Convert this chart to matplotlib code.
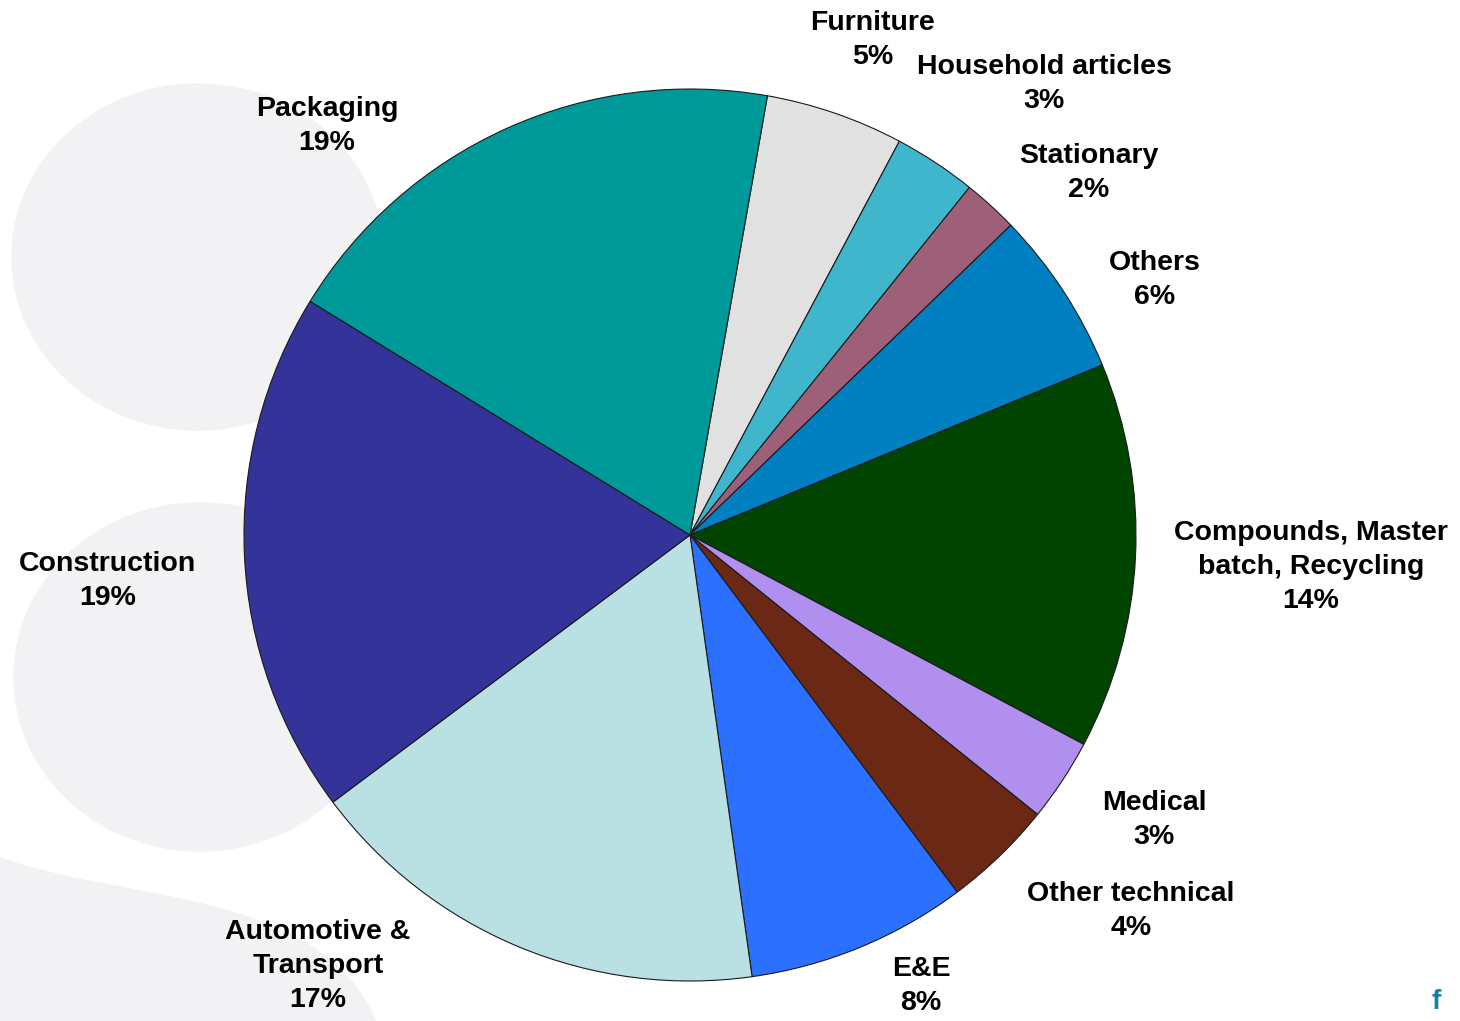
import matplotlib
matplotlib.use("Agg")
import matplotlib.pyplot as plt
from matplotlib.patches import Ellipse, PathPatch
from matplotlib.path import Path

# ---------- Data ----------
labels = ["Furniture", "Household articles", "Stationary", "Others",
          "Compounds, Master\nbatch, Recycling", "Medical", "Other technical",
          "E&E", "Automotive &\nTransport", "Construction", "Packaging"]
shares = [5, 3, 2, 6, 14, 3, 4, 8, 17, 19, 19]
colors = ["#E1E1E1", "#3FB6CC", "#9E6078", "#0080C0", "#004400", "#B18FEE",
          "#6B2915", "#2B70FF", "#B9E0E3", "#333399", "#009999"]

# label centres in pixel coords (y measured from top)
label_pos = [(873, 40), (1044, 84), (1089, 173), (1155, 280), (1311, 567),
             (1154, 820), (1131, 911), (921, 986), (318, 966), (108, 581),
             (327, 126)]

W, H = 1460, 1021
fig = plt.figure(figsize=(W / 100, H / 100), dpi=100)
ax = fig.add_axes([0, 0, 1, 1])

# ---------- background decoration ----------
bg = "#F2F2F4"
ax.add_patch(Ellipse((198, H - 257), 372, 346, color=bg, zorder=0))
ax.add_patch(Ellipse((200, H - 677), 372, 348, color=bg, zorder=0))
swoosh = Path([(0, H - 857), (120, H - 902), (320, H - 887), (376, 0),
               (0, 0), (0, H - 857)],
              [Path.MOVETO, Path.CURVE4, Path.CURVE4, Path.CURVE4,
               Path.LINETO, Path.CLOSEPOLY])
ax.add_patch(PathPatch(swoosh, facecolor=bg, edgecolor="none", zorder=0))

# ---------- pie ----------
ax.pie(shares, colors=colors, startangle=80, counterclock=False,
       center=(690, H - 535), radius=446,
       wedgeprops=dict(edgecolor="#1a1a1a", linewidth=0.8))

for lab, val, (x, y) in zip(labels, shares, label_pos):
    ax.text(x, H - y, f"{lab}\n{val}%", ha="center", va="center",
            fontsize=20.5, fontweight="bold", family="Liberation Sans",
            linespacing=1.38, color="black")

# small logo mark bottom-right
ax.text(1432, 6, "f", ha="left", va="bottom", fontsize=20,
        fontweight="bold", color="#1A7FA0", family="Liberation Sans")

ax.set_xlim(0, W)
ax.set_ylim(0, H)
ax.set_aspect("equal")
ax.axis("off")

fig.savefig("out.png", dpi=100)
